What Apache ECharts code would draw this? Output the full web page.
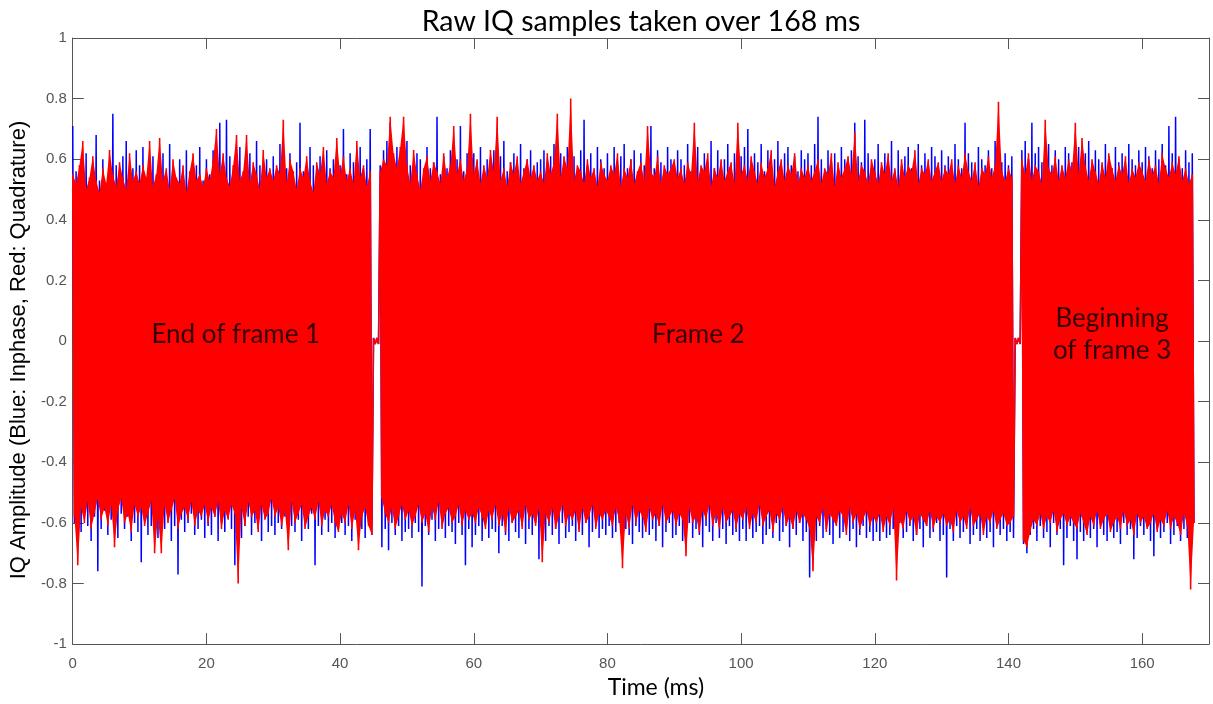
<!DOCTYPE html>
<html><head><meta charset="utf-8">
<script src="https://cdn.jsdelivr.net/npm/echarts@6/dist/echarts.min.js"></script>
<style>html,body{margin:0;padding:0;background:#fff}#c{width:1213px;height:704px}</style>
</head><body><div id="c"></div>
<script>
// Each 0.5 ms bin: the largest positive and the largest negative excursion.
const BIN_MS = 0.5;
const titleText = 'Raw IQ samples taken over 168 ms';
const xName = 'Time (ms)';
const yName = 'IQ Amplitude (Blue: Inphase, Red: Quadrature)';

// Quadrature (red) peaks per bin
const qMax = [
.55,.52,.58,.66,.50,.54,.61,.53,.49,.57,.52,.63,.55,.51,.59,.54,.50,.62,.53,.56,
.52,.58,.54,.66,.51,.55,.67,.53,.57,.50,.60,.54,.52,.58,.49,.56,.62,.53,.55,.51,
.57,.53,.60,.70,.55,.62,.54,.51,.58,.68,.53,.56,.68,.52,.59,.55,.50,.63,.54,.57,
.53,.58,.55,.73,.52,.60,.56,.50,.57,.54,.61,.53,.49,.59,.55,.64,.52,.56,.54,.67,
.55,.61,.53,.57,.52,.66,.54,.58,.51,.56,.01,.01,.56,.60,.58,.74,.62,.57,.64,.74,
.58,.52,.63,.55,.50,.57,.61,.53,.59,.56,.52,.62,.54,.58,.71,.55,.60,.53,.57,.75,
.55,.60,.52,.58,.54,.63,.56,.74,.53,.57,.51,.59,.55,.61,.52,.56,.60,.54,.58,.53,
.56,.52,.62,.55,.59,.75,.54,.61,.57,.80,.53,.58,.56,.52,.60,.54,.57,.51,.59,.55,
.53,.58,.55,.62,.51,.57,.54,.60,.52,.56,.59,.53,.71,.56,.54,.61,.52,.58,.55,.57,
.60,.54,.57,.52,.59,.55,.72,.53,.58,.56,.62,.51,.57,.54,.60,.53,.56,.59,.52,.72,
.55,.58,.53,.61,.56,.52,.59,.54,.57,.63,.51,.56,.60,.53,.58,.55,.62,.52,.57,.54,
.58,.53,.56,.60,.52,.57,.55,.62,.51,.59,.54,.57,.61,.55,.69,.53,.58,.56,.52,.60,
.56,.52,.59,.55,.62,.53,.57,.51,.60,.54,.58,.56,.63,.52,.57,.55,.60,.53,.56,.59,
.53,.57,.55,.60,.52,.58,.54,.62,.56,.53,.59,.51,.57,.55,.61,.54,.58,.79,.56,.53,
.57,.54,.01,.01,.60,.55,.62,.53,.58,.56,.52,.73,.57,.55,.61,.53,.58,.54,.60,.56,
.72,.55,.67,.58,.53,.60,.56,.52,.59,.54,.62,.57,.53,.58,.55,.61,.52,.57,.54,.59,
.56,.53,.60,.55,.58,.52,.62,.57,.54,.59,.55,.61,.53,.57,.52,.55];
const qMin = [
-.58,-.74,-.55,-.60,-.53,-.62,-.57,-.52,-.59,-.55,-.61,-.54,-.68,-.56,-.52,-.60,-.57,-.63,-.54,-.58,
-.55,-.61,-.57,-.53,-.70,-.58,-.70,-.54,-.60,-.56,-.52,-.62,-.57,-.55,-.59,-.53,-.61,-.56,-.58,-.54,
-.60,-.55,-.58,-.53,-.62,-.56,-.59,-.54,-.57,-.80,-.55,-.61,-.53,-.58,-.56,-.63,-.54,-.59,-.57,-.52,
-.58,-.55,-.61,-.56,-.69,-.53,-.60,-.57,-.54,-.62,-.58,-.55,-.59,-.53,-.61,-.56,-.58,-.54,-.60,-.63,
-.57,-.60,-.54,-.62,-.56,-.69,-.58,-.55,-.61,-.64,-.01,-.01,-.52,-.57,-.60,-.55,-.62,-.58,-.54,-.59,
-.56,-.61,-.58,-.54,-.60,-.57,-.63,-.55,-.59,-.53,-.62,-.57,-.55,-.60,-.58,-.54,-.61,-.56,-.59,-.57,
-.60,-.55,-.58,-.62,-.56,-.59,-.54,-.61,-.57,-.63,-.55,-.60,-.58,-.56,-.62,-.54,-.59,-.57,-.61,-.55,
-.73,-.57,-.60,-.55,-.62,-.58,-.54,-.61,-.57,-.59,-.56,-.63,-.55,-.60,-.58,-.54,-.62,-.57,-.59,-.56,
-.58,-.61,-.55,-.59,-.75,-.57,-.62,-.54,-.60,-.56,-.58,-.63,-.55,-.59,-.57,-.61,-.54,-.60,-.58,-.56,
-.61,-.57,-.59,-.71,-.55,-.60,-.58,-.63,-.56,-.59,-.54,-.61,-.57,-.62,-.55,-.60,-.58,-.56,-.62,-.57,
-.59,-.55,-.62,-.57,-.60,-.54,-.61,-.58,-.56,-.63,-.57,-.59,-.55,-.61,-.58,-.62,-.56,-.60,-.57,-.59,
-.62,-.76,-.58,-.60,-.55,-.63,-.57,-.59,-.61,-.56,-.58,-.64,-.55,-.60,-.57,-.62,-.59,-.56,-.61,-.58,
-.60,-.57,-.63,-.58,-.61,-.55,-.79,-.59,-.62,-.56,-.60,-.58,-.64,-.57,-.59,-.61,-.56,-.62,-.58,-.60,
-.57,-.61,-.59,-.63,-.56,-.60,-.58,-.62,-.55,-.61,-.59,-.57,-.64,-.58,-.60,-.56,-.62,-.59,-.57,-.61,
-.60,-.58,-.01,-.01,-.66,-.68,-.63,-.59,-.61,-.57,-.62,-.58,-.60,-.56,-.63,-.59,-.57,-.61,-.58,-.60,
-.62,-.57,-.60,-.64,-.58,-.61,-.56,-.62,-.59,-.57,-.63,-.60,-.58,-.62,-.56,-.61,-.59,-.64,-.57,-.60,
-.58,-.62,-.60,-.57,-.63,-.59,-.61,-.56,-.62,-.58,-.60,-.64,-.57,-.61,-.82,-.60];

// Inphase (blue) peaks per bin
const iMax = [
.71,.56,.50,.54,.62,.49,.57,.68,.53,.60,.51,.55,.75,.58,.52,.61,.66,.50,.57,.63,
.58,.64,.50,.55,.61,.53,.57,.62,.49,.65,.54,.52,.60,.56,.63,.51,.55,.58,.64,.53,
.60,.55,.63,.52,.72,.57,.73,.61,.54,.59,.64,.50,.56,.62,.53,.66,.58,.51,.60,.55,
.61,.54,.65,.50,.57,.62,.53,.59,.72,.56,.52,.64,.58,.55,.61,.50,.63,.57,.60,.54,
.58,.70,.55,.62,.59,.53,.64,.57,.60,.70,.01,.01,.58,.63,.66,.72,.59,.64,.57,.61,
.66,.58,.55,.62,.60,.53,.64,.57,.59,.74,.55,.61,.57,.63,.52,.60,.71,.56,.62,.58,
.62,.57,.64,.55,.60,.58,.63,.53,.61,.66,.56,.59,.62,.54,.65,.57,.60,.63,.55,.59,
.60,.63,.56,.61,.65,.57,.62,.55,.64,.59,.61,.56,.63,.73,.58,.62,.55,.64,.60,.57,
.62,.56,.64,.58,.61,.65,.57,.60,.63,.55,.62,.58,.60,.71,.57,.63,.59,.55,.64,.60,
.57,.63,.60,.58,.65,.56,.61,.64,.55,.62,.59,.66,.57,.63,.56,.60,.65,.58,.62,.55,
.61,.64,.70,.57,.62,.59,.65,.56,.63,.58,.60,.66,.57,.62,.64,.58,.61,.56,.63,.60,
.62,.58,.65,.74,.60,.56,.63,.59,.62,.57,.64,.60,.58,.63,.72,.61,.59,.73,.62,.57,
.60,.65,.57,.62,.59,.66,.56,.63,.58,.61,.64,.57,.60,.65,.58,.62,.56,.64,.61,.57,
.63,.58,.61,.56,.65,.60,.57,.72,.62,.59,.56,.64,.60,.58,.63,.57,.66,.61,.59,.62,
.58,.61,.01,.01,.63,.66,.60,.72,.62,.64,.59,.61,.65,.58,.63,.60,.56,.64,.62,.59,
.61,.64,.58,.62,.66,.57,.63,.60,.58,.65,.61,.57,.64,.59,.62,.56,.65,.60,.58,.63,
.59,.64,.61,.57,.63,.60,.65,.58,.71,.62,.74,.60,.57,.63,.59,.62];
const iMin = [
-.60,-.57,-.63,-.55,-.61,-.66,-.58,-.76,-.62,-.56,-.64,-.59,-.60,-.65,-.57,-.62,-.58,-.66,-.60,-.63,
-.73,-.59,-.64,-.61,-.57,-.65,-.60,-.62,-.58,-.66,-.61,-.77,-.59,-.63,-.60,-.57,-.64,-.62,-.59,-.65,
-.61,-.64,-.58,-.66,-.60,-.63,-.57,-.62,-.74,-.59,-.65,-.61,-.58,-.64,-.60,-.62,-.66,-.57,-.63,-.61,
-.64,-.60,-.62,-.58,-.65,-.61,-.63,-.59,-.66,-.60,-.62,-.57,-.74,-.61,-.64,-.59,-.63,-.60,-.65,-.62,
-.60,-.64,-.61,-.66,-.59,-.63,-.62,-.65,-.60,-.64,-.01,-.01,-.68,-.62,-.69,-.60,-.64,-.61,-.66,-.63,
-.62,-.65,-.60,-.63,-.81,-.61,-.64,-.59,-.66,-.62,-.60,-.65,-.61,-.63,-.67,-.60,-.64,-.74,-.62,-.68,
-.64,-.61,-.66,-.60,-.65,-.62,-.63,-.70,-.61,-.64,-.66,-.60,-.63,-.65,-.61,-.67,-.62,-.64,-.60,-.72,
-.63,-.66,-.61,-.64,-.62,-.67,-.60,-.65,-.63,-.61,-.66,-.62,-.64,-.60,-.68,-.63,-.61,-.65,-.62,-.64,
-.61,-.65,-.63,-.60,-.66,-.62,-.64,-.67,-.61,-.63,-.65,-.60,-.64,-.62,-.66,-.61,-.68,-.63,-.60,-.65,
-.64,-.61,-.66,-.63,-.60,-.65,-.62,-.64,-.68,-.61,-.63,-.66,-.60,-.65,-.62,-.67,-.61,-.64,-.63,-.66,
-.62,-.66,-.60,-.65,-.63,-.61,-.67,-.64,-.62,-.65,-.60,-.66,-.63,-.61,-.68,-.62,-.64,-.60,-.66,-.63,
-.78,-.63,-.66,-.61,-.65,-.62,-.64,-.67,-.60,-.65,-.63,-.61,-.66,-.62,-.68,-.64,-.61,-.65,-.63,-.66,
-.63,-.66,-.61,-.65,-.64,-.62,-.67,-.60,-.65,-.63,-.61,-.66,-.64,-.62,-.68,-.61,-.65,-.63,-.60,-.66,
-.64,-.78,-.62,-.66,-.61,-.65,-.63,-.60,-.67,-.64,-.62,-.66,-.61,-.65,-.63,-.68,-.60,-.64,-.62,-.66,
-.63,-.65,-.01,-.01,-.67,-.70,-.64,-.62,-.66,-.61,-.65,-.63,-.68,-.60,-.64,-.62,-.74,-.65,-.61,-.66,
-.72,-.63,-.66,-.61,-.65,-.62,-.68,-.60,-.64,-.66,-.61,-.65,-.63,-.67,-.60,-.64,-.62,-.72,-.65,-.61,
-.64,-.61,-.66,-.71,-.62,-.65,-.63,-.60,-.67,-.64,-.61,-.66,-.62,-.65,-.63,-.60];

// Bin ranges of the three frames (the bins in between are the silent gaps)
const frameBins = [[0, 89], [92, 281], [284, 335]];

// Text labels placed in the plot (time in ms, amplitude)
const annotations = [
  {name: 'End of frame 1', t: 24.4, v: 0.02},
  {name: 'Frame 2', t: 93.6, v: 0.02},
  {name: 'Beginning\nof frame 3', t: 155.5, v: 0.02}
];
const xMin = 0, xMax = 170, xStep = 20;
const yMin = -1, yMax = 1, yStep = 0.2;

// zig-zag trace: positive excursion, then negative excursion, in each bin
function zigzag(maxArr, minArr) {
  const d = [];
  for (let k = 0; k < maxArr.length; k++) {
    d.push([k * BIN_MS, maxArr[k]]);
    d.push([k * BIN_MS + BIN_MS / 2, minArr[k]]);
  }
  return d;
}

// filled envelope of the dense red trace in each frame:
// polygon through the positive peaks, back through the negative ones
function renderBand(params, api) {
  const children = frameBins.map(([a, b]) => {
    const pts = [];
    for (let k = a; k <= b; k++) pts.push(api.coord([k * BIN_MS, qMax[k]]));
    for (let k = b; k >= a; k--) pts.push(api.coord([k * BIN_MS + BIN_MS / 2, qMin[k]]));
    return {type: 'polygon', shape: {points: pts}, style: {fill: '#ff0000', stroke: null}};
  });
  return {type: 'group', children};
}

const axisColor = '#555';
const labelStyle = {color: '#555', fontFamily: 'Liberation Sans', fontSize: 15};
const tickStyle = {inside: true, length: 11, lineStyle: {color: axisColor, width: 1}};
const lineStyleAxis = {onZero: false, lineStyle: {color: axisColor, width: 1}};
const chart = echarts.init(document.getElementById('c'), null, {renderer: 'canvas'});
chart.setOption({
  animation: false,
  backgroundColor: '#fff',
  title: {
    text: titleText, left: 636, top: 2, textAlign: 'center',
    textStyle: {fontFamily: 'Lato', fontSize: 28.5, fontWeight: 'normal', color: '#000'}
  },
  grid: {left: 68, right: 4, top: 38, bottom: 53},
  xAxis: [{
    type: 'value', min: xMin, max: xMax, interval: xStep, position: 'bottom',
    name: xName, nameLocation: 'middle', nameGap: 28,
    nameTextStyle: {fontFamily: 'Lato', fontSize: 23, color: '#000', padding: [0, 0, 0, 30]},
    axisLine: lineStyleAxis,
    axisTick: tickStyle,
    axisLabel: Object.assign({margin: 12, showMaxLabel: false}, labelStyle),
    splitLine: {show: false}
  }, {
    type: 'value', min: xMin, max: xMax, interval: xStep, position: 'top',
    axisLine: lineStyleAxis,
    axisTick: tickStyle,
    axisLabel: {show: false}, splitLine: {show: false}
  }],
  yAxis: [{
    type: 'value', min: yMin, max: yMax, interval: yStep, position: 'left',
    name: yName, nameLocation: 'middle', nameGap: 36, nameRotate: 90,
    nameTextStyle: {fontFamily: 'Liberation Sans', fontSize: 22, color: '#000', padding: [0, 18, 0, 0]},
    axisLine: Object.assign({show: true}, lineStyleAxis),
    axisTick: Object.assign({show: true}, tickStyle),
    axisLabel: Object.assign({margin: 6, formatter: v => String(Math.round(v * 10) / 10)}, labelStyle),
    splitLine: {show: false}
  }, {
    type: 'value', min: yMin, max: yMax, interval: yStep, position: 'right',
    axisLine: Object.assign({show: true}, lineStyleAxis),
    axisTick: Object.assign({show: true}, tickStyle),
    axisLabel: {show: false}, splitLine: {show: false}
  }],
  series: [{
    name: 'Inphase', type: 'line', data: zigzag(iMax, iMin), showSymbol: false, symbol: 'none',
    z: 2,
    lineStyle: {color: '#0000ff', width: 1.5}
  }, {
    name: 'QuadratureBand', type: 'custom', z: 3, silent: true,
    data: [[0, 0]],
    renderItem: renderBand
  }, {
    name: 'Quadrature', type: 'line', data: zigzag(qMax, qMin), showSymbol: false, symbol: 'none',
    z: 4,
    lineStyle: {color: '#ff0000', width: 1.6}
  }, {
    type: 'scatter', z: 5, symbolSize: 0,
    data: annotations.map(a => ({name: a.name, value: [a.t, a.v]})),
    label: {show: true, position: 'inside', formatter: p => p.name,
      fontFamily: 'Lato', fontSize: 26, color: '#000', lineHeight: 32, align: 'center', verticalAlign: 'middle'}
  }]
});
</script></body></html>
